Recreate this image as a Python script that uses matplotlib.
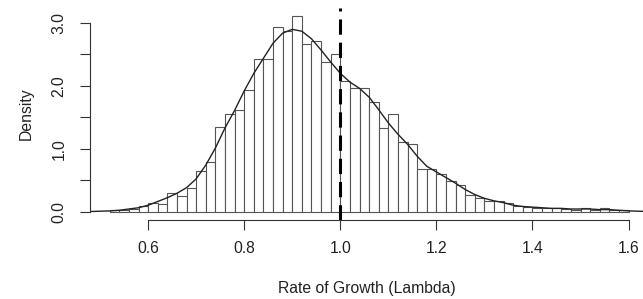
import numpy as np
import matplotlib.pyplot as plt

plt.rcParams['font.family'] = ['Liberation Sans', 'DejaVu Sans']

# histogram of lambda, density scale, bins of width 0.02 starting at 0.52
bin_start = 0.52
bin_width = 0.02
density = [0.03, 0.02, 0.04, 0.09, 0.14, 0.12, 0.29, 0.25, 0.38, 0.64,
           0.79, 1.35, 1.55, 1.61, 1.94, 2.43, 2.43, 2.94, 2.88, 3.11,
           2.67, 2.72, 2.38, 2.51, 2.08, 1.96, 1.97, 1.75, 1.33, 1.56,
           1.11, 1.07, 0.68, 0.67, 0.60, 0.49, 0.42, 0.27, 0.21, 0.17,
           0.16, 0.14, 0.08, 0.07, 0.05, 0.05, 0.05, 0.04, 0.03, 0.05,
           0.03, 0.05, 0.02, 0.02]

# kernel density line, read every 0.02 from 0.48
curve_start = 0.48
curve_step = 0.02
curve = [0.0, 0.005, 0.01, 0.02, 0.04, 0.06, 0.10, 0.16, 0.22, 0.29,
         0.38, 0.52, 0.74, 1.01, 1.33, 1.61, 1.92, 2.20, 2.44, 2.68,
         2.84, 2.90, 2.87, 2.75, 2.57, 2.38, 2.20, 2.06, 1.96, 1.82,
         1.62, 1.41, 1.23, 1.07, 0.88, 0.72, 0.63, 0.54, 0.45, 0.35,
         0.27, 0.21, 0.17, 0.14, 0.10, 0.08, 0.07, 0.06, 0.05, 0.05,
         0.04, 0.04, 0.04, 0.03, 0.03, 0.02, 0.01, 0.005, 0.0]

ref_lambda = 1.0
x_ticks = [0.6, 0.8, 1.0, 1.2, 1.4, 1.6]
y_ticks = [0.0, 0.5, 1.0, 1.5, 2.0, 2.5, 3.0]
y_labels = ['0.0', '', '1.0', '', '2.0', '', '3.0']

lefts = bin_start + bin_width * np.arange(len(density))
cx = curve_start + curve_step * np.arange(len(curve))

fig = plt.figure(figsize=(6.43, 2.99), dpi=100)
ax = fig.add_axes([90/643, 79/299, 553/643, 212/299])

ax.bar(lefts, density, width=bin_width, align='edge', color='white',
       edgecolor='#555555', linewidth=0.8)
ax.plot(cx, curve, color='#222222', lw=1.0)
ax.axvline(ref_lambda, color='black', lw=2.2, dashes=(5.0, 2.6))

ax.set_xlim(0.479, 1.63)
ax.set_ylim(-0.135, 3.24)

for s in ['top', 'right']:
    ax.spines[s].set_visible(False)
ax.spines['left'].set_bounds(0, 3)
ax.spines['bottom'].set_bounds(0.6, 1.6)
for s in ['left', 'bottom']:
    ax.spines[s].set_linewidth(0.8)
    ax.spines[s].set_color('#333333')

ax.set_xticks(x_ticks)
ax.set_xticklabels(['%.1f' % v for v in x_ticks])
ax.set_yticks(y_ticks)
ax.set_yticklabels(y_labels, rotation=90, va='center')
ax.tick_params(length=7, width=0.8, color='#333333', labelsize=11.3,
               labelcolor='#222222')
ax.tick_params(axis='x', pad=8)
ax.tick_params(axis='y', pad=10)

ax.set_xlabel('Rate of Growth (Lambda)', fontsize=11.3, color='#222222', labelpad=18)
ax.set_ylabel('Density', fontsize=11.3, color='#222222', labelpad=13)

fig.savefig('out.png', dpi=100)
